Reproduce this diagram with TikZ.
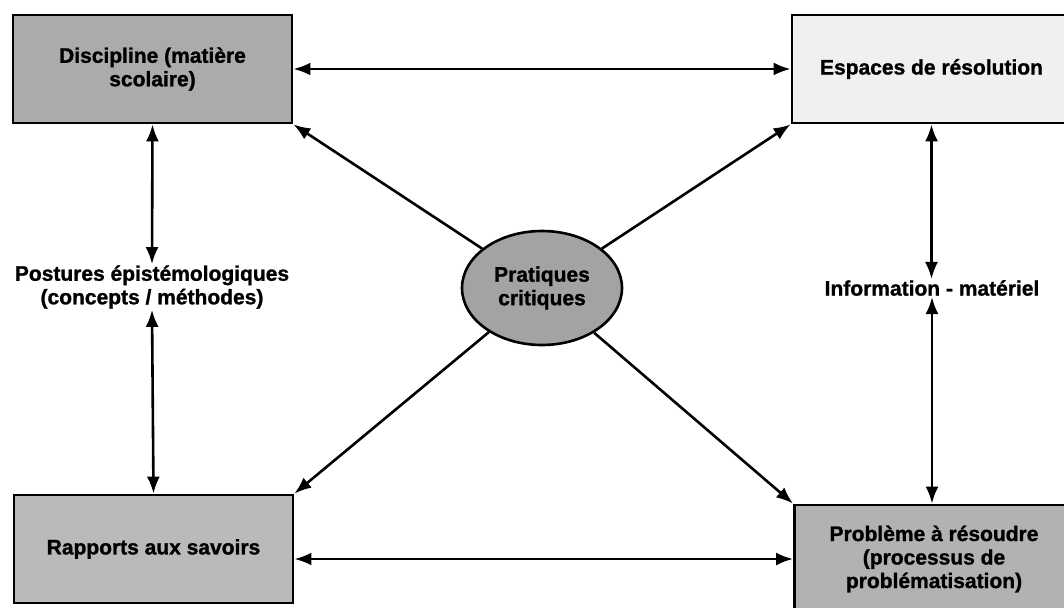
\documentclass[tikz,border=0pt]{standalone}
\usepackage{fontspec}
\setmainfont{Liberation Sans}[BoldFeatures={FakeBold=1.2}]
\usetikzlibrary{arrows.meta,shapes.geometric}
\begin{document}
\begin{tikzpicture}[x=1pt,y=-1pt,
  txt/.style={font=\fontsize{21}{23.5}\selectfont\bfseries},
  box/.style={txt,draw=black,line width=2.8pt,rectangle,minimum width=279pt,minimum height=108pt,inner sep=0pt,align=center},
  lbl/.style={txt,inner sep=1pt,align=center},
  con/.style={line width=2.6pt,-{Latex[length=17pt,width=13pt]}},
  dcon/.style={line width=2.6pt,{Latex[length=17pt,width=13pt]}-{Latex[length=17pt,width=13pt]}}]
\useasboundingbox (0,0) rectangle (1064,607);
\node[box,fill=black!33] (disc) at (152.5,69) {Discipline (matière\\scolaire)};
\node[box,fill=black!6] (esp) at (931.5,69) {Espaces de résolution};
\node[box,fill=black!27] (rap) at (153.5,549) {Rapports aux savoirs};
\node[box,fill=black!30] (prob) at (934,559) {Problème à résoudre\\(processus de\\problématisation)};
\node[txt,ellipse,draw=black,line width=2.6pt,fill=black!36,minimum width=160pt,minimum height=114pt,inner sep=0pt,align=center] (ell) at (542,288) {Pratiques\\critiques};
\node[lbl] (post) at (152,287) {Postures épistémologiques\\(concepts / méthodes)};
\node[lbl] (info) at (932,288) {Information - matériel};
\draw[dcon] (disc.east) -- (esp.west);
\draw[dcon] (rap.east |- prob.west) -- (prob.west);
\draw[dcon] (disc.south) -- (post.north);
\draw[dcon] (post.south) -- (rap.north);
\draw[dcon] (esp.south) -- (info.north -| esp.south);
\draw[dcon] (info.south) -- (info.south |- prob.north);
\draw[con] (ell) -- (disc.south east);
\draw[con] (ell) -- (esp.south west);
\draw[con] (ell) -- (rap.north east);
\draw[con] (ell) -- (prob.north west);
\end{tikzpicture}
\end{document}
